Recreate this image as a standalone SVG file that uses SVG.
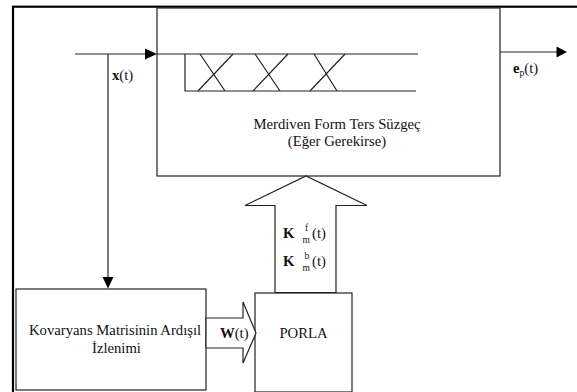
<svg xmlns="http://www.w3.org/2000/svg" width="577" height="392" viewBox="0 0 577 392" font-family="'Liberation Serif','Times New Roman','DejaVu Serif',serif">
<style>
.ln{fill:none;stroke:#222;stroke-width:1.2}
.bx{fill:#fff;stroke:#222;stroke-width:1.2}
.ah{fill:#000;stroke:none}
text{font-family:"Liberation Serif","Times New Roman","DejaVu Serif",serif;fill:#111}
.t{font-size:14.7px}
.b{font-weight:bold}
</style>
<rect x="0" y="0" width="577" height="392" fill="#fff"/>
<rect x="13" y="6.7" width="600" height="420" fill="none" stroke="#000" stroke-width="2.2"/>
<g id="filter">
<rect class="bx" x="157" y="8" width="343" height="168"/>
<polyline class="ln" points="185,54 185,91 416,91"/>
<line class="ln" x1="157" y1="54" x2="418" y2="54"/>
<path class="ln" d="M200,54 L225,91 M233,54 L198,91 M255,54 L280,91 M288,54 L253,91 M314,54 L337,91 M345,54 L310,91"/>
<text class="t" x="337" y="129" text-anchor="middle">Merdiven Form Ters Süzgeç</text>
<text class="t" x="337" y="146" text-anchor="middle">(Eğer Gerekirse)</text>
</g>
<g id="kovaryans">
<rect class="bx" x="16" y="289" width="190" height="101"/>
<text class="t" x="29" y="335">Kovaryans Matrisinin Ardışıl</text>
<text class="t" x="116.5" y="352.5" text-anchor="middle">İzlenimi</text>
</g>
<g id="porla">
<rect class="bx" x="255" y="293" width="97" height="99"/>
<text class="t" x="303.5" y="338" text-anchor="middle">PORLA</text>
</g>
<g id="connectors">
<line class="ln" x1="75" y1="54" x2="146" y2="54"/>
<polygon class="ah" points="145,48.5 157,54 145,59.5"/>
<line class="ln" x1="108" y1="54" x2="108" y2="278"/>
<polygon class="ah" points="102.5,277 113.5,277 108,288.5"/>
<line class="ln" x1="500" y1="52" x2="558" y2="52"/>
<polygon class="ah" points="556.5,46.5 567,52 556.5,57.5"/>
<polygon class="bx" points="275,292.5 275,205.5 245,205.5 306,176 367,205.5 336,205.5 336,292.5"/>
<polygon class="bx" points="206,318 243,318 243,302 256,333 243,363 243,348 206,348"/>
</g>
<g id="labels">
<text class="t" x="112" y="80"><tspan class="b">x</tspan>(t)</text>
<text class="t" x="513" y="73"><tspan class="b">e</tspan><tspan font-size="9.5" dy="3">p</tspan><tspan dy="-3">(t)</tspan></text>
<text class="t b" x="283" y="238" font-size="16">K</text>
<text x="305" y="231" font-size="9.5">f</text>
<text x="302.5" y="243" font-size="9.5">m</text>
<text class="t" x="312" y="238">(t)</text>
<text class="t b" x="283" y="266" font-size="16">K</text>
<text x="304.5" y="259" font-size="9.5">b</text>
<text x="302.5" y="271" font-size="9.5">m</text>
<text class="t" x="312" y="266">(t)</text>
<text class="t" x="220" y="338"><tspan class="b">W</tspan>(t)</text>
</g>
</svg>
